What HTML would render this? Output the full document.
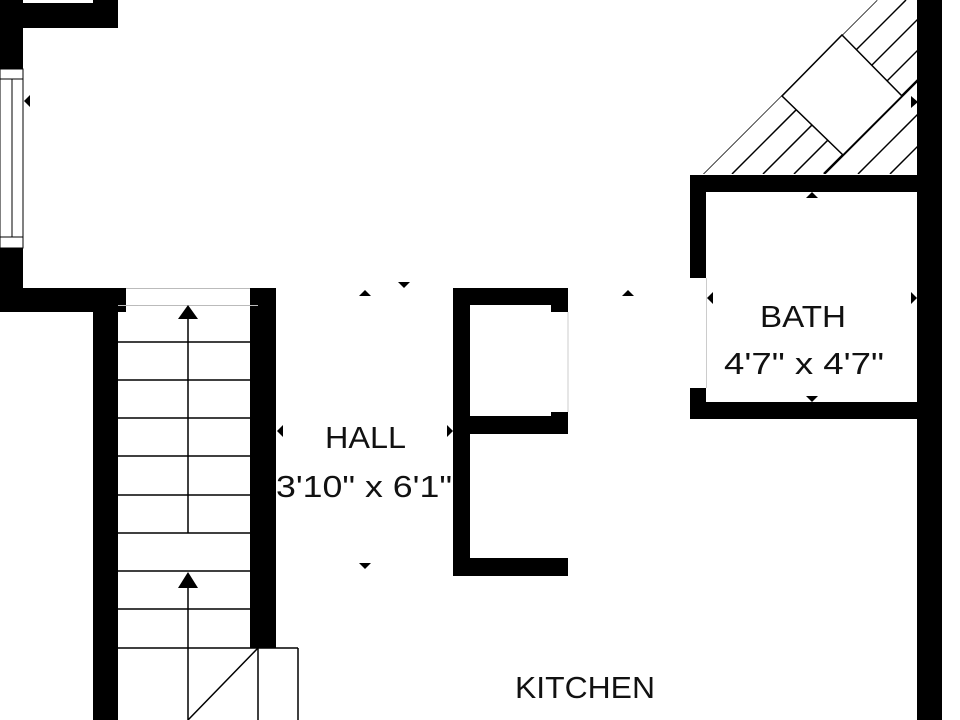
<!DOCTYPE html>
<html><head><style>html,body{margin:0;padding:0;background:#fff}svg{display:block}</style></head>
<body>
<svg width="960" height="720" viewBox="0 0 960 720" xmlns="http://www.w3.org/2000/svg">
<defs>
<clipPath id="tri"><polygon points="918,0 918,174 703,174 877,0"/></clipPath>
</defs>
<rect width="960" height="720" fill="#fff"/>
<!-- top-left walls -->
<rect x="0" y="0" width="118" height="28" fill="#000"/>
<rect x="0" y="0" width="93" height="3" fill="#fff"/>
<rect x="0" y="0" width="23" height="69" fill="#000"/>
<rect x="0" y="248" width="23" height="64" fill="#000"/>
<rect x="0" y="288" width="126" height="24" fill="#000"/>
<!-- window left -->
<rect x="0" y="69" width="23" height="179" fill="#fff" stroke="#000" stroke-width="1"/>
<line x1="0" y1="79" x2="23" y2="79" stroke="#000"/>
<line x1="0" y1="237" x2="23" y2="237" stroke="#000"/>
<line x1="12" y1="79" x2="12" y2="237" stroke="#000"/>
<polygon points="24,101 30,95 30,107" fill="#000"/>
<!-- stair walls -->
<rect x="93" y="312" width="25" height="408" fill="#000"/>
<rect x="250" y="288" width="26" height="360" fill="#000"/>
<line x1="126" y1="288.5" x2="250" y2="288.5" stroke="#bbb"/>
<line x1="118" y1="305.5" x2="258" y2="305.5" stroke="#bbb"/>
<!-- treads -->
<g stroke="#000" stroke-width="1.5">
<line x1="118" y1="342" x2="258" y2="342"/>
<line x1="118" y1="380" x2="258" y2="380"/>
<line x1="118" y1="418" x2="258" y2="418"/>
<line x1="118" y1="456" x2="258" y2="456"/>
<line x1="118" y1="495" x2="258" y2="495"/>
<line x1="118" y1="533" x2="258" y2="533"/>
<line x1="118" y1="571" x2="258" y2="571"/>
<line x1="118" y1="609" x2="258" y2="609"/>
<line x1="118" y1="648" x2="298" y2="648"/>
<line x1="188" y1="318" x2="188" y2="533"/>
<line x1="188" y1="586" x2="188" y2="720"/>
<line x1="258" y1="648" x2="258" y2="720"/>
<line x1="298" y1="648" x2="298" y2="720"/>
<line x1="188" y1="720" x2="258" y2="648"/>
</g>
<polygon points="188,305 198,319 178,319" fill="#000"/>
<polygon points="188,572 198,588 178,588" fill="#000"/>
<!-- E shape -->
<rect x="453" y="288" width="17" height="288" fill="#000"/>
<rect x="453" y="288" width="115" height="17" fill="#000"/>
<rect x="551" y="288" width="17" height="24" fill="#000"/>
<rect x="453" y="416" width="115" height="18" fill="#000"/>
<rect x="551" y="412" width="17" height="22" fill="#000"/>
<rect x="453" y="558" width="115" height="18" fill="#000"/>
<line x1="568" y1="312" x2="568" y2="412" stroke="#ccc"/>
<!-- right wall -->
<rect x="917" y="0" width="25" height="720" fill="#000"/>
<!-- bath -->
<rect x="690" y="175" width="230" height="17" fill="#000"/>
<rect x="690" y="175" width="16" height="103" fill="#000"/>
<rect x="690" y="388" width="16" height="30" fill="#000"/>
<rect x="690" y="402" width="230" height="17" fill="#000"/>
<line x1="706.5" y1="278" x2="706.5" y2="388" stroke="#ccc"/>
<!-- hatched stair top right -->
<g clip-path="url(#tri)" stroke="#000" stroke-width="1.5">
<line x1="877" y1="0" x2="703" y2="174"/>
<line x1="906" y1="0" x2="732" y2="174"/>
<line x1="937" y1="0" x2="763" y2="174"/>
<line x1="968" y1="0" x2="794" y2="174"/>
<line x1="998" y1="0" x2="824" y2="174" stroke-width="2.5"/>
<line x1="1032" y1="0" x2="858" y2="174"/>
<line x1="1064" y1="0" x2="890" y2="174"/>
<line x1="1096" y1="0" x2="922" y2="174"/>
</g>
<polygon points="842,35 902,96 843,155 782,96" fill="#fff" stroke="#000" stroke-width="1.5"/>
<polygon points="782,96 842,35 842,35" fill="#000"/>
<!-- small markers -->
<g fill="#000">
<polygon points="911,96 918,102 911,108"/>
<polygon points="812,192 806,198 818,198"/>
<polygon points="812,402 806,396 818,396"/>
<polygon points="707,298 713,292 713,304"/>
<polygon points="917,298 911,292 911,304"/>
<polygon points="365,290 359,296 371,296"/>
<polygon points="404,288 398,282 410,282"/>
<polygon points="628,290 622,296 634,296"/>
<polygon points="277,431 283,425 283,437"/>
<polygon points="453,431 447,425 447,437"/>
<polygon points="365,569 359,563 371,563"/>
</g>
<!-- labels -->
<g font-family="Liberation Sans, sans-serif" fill="#111" font-size="31">
<text x="325" y="448" textLength="81" lengthAdjust="spacingAndGlyphs">HALL</text>
<text x="276" y="497" textLength="176" lengthAdjust="spacingAndGlyphs">3'10" x 6'1"</text>
<text x="760" y="327" textLength="86" lengthAdjust="spacingAndGlyphs">BATH</text>
<text x="724" y="374" textLength="160" lengthAdjust="spacingAndGlyphs">4'7" x 4'7"</text>
<text x="515" y="698" textLength="140" lengthAdjust="spacingAndGlyphs">KITCHEN</text>
</g>
</svg>
</body></html>
